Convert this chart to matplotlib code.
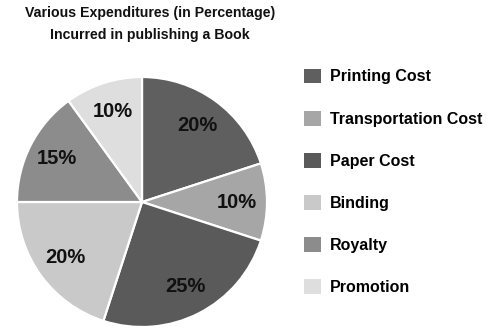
import matplotlib
matplotlib.use("Agg")
import matplotlib.pyplot as plt
from matplotlib.patches import Patch

plt.rcParams['font.family'] = ['Liberation Sans', 'DejaVu Sans']

categories = ["Printing Cost", "Transportation Cost", "Paper Cost",
              "Binding", "Royalty", "Promotion"]
shares = [20, 10, 25, 20, 15, 10]
colors = ["#5f5f5f", "#a6a6a6", "#5a5a5a", "#c9c9c9", "#8c8c8c", "#dedede"]
title = "Various Expenditures (in Percentage)\nIncurred in publishing a Book"

W, H = 496, 335
fig = plt.figure(figsize=(W / 100, H / 100), dpi=100)
fig.patch.set_facecolor("white")

cx, cy, r = 142, 202, 125
ax = fig.add_axes([(cx - r) / W, (H - cy - r) / H, 2 * r / W, 2 * r / H])
wedges, texts = ax.pie(
    shares, colors=colors, startangle=90, counterclock=False,
    labels=[f"{v}%" for v in shares], labeldistance=0.76,
    wedgeprops=dict(edgecolor="white", linewidth=1.6),
    textprops=dict(fontsize=14.5, fontweight="bold", color="#111111",
                   ha="center", va="center"))
ax.set_xlim(-1, 1)
ax.set_ylim(-1, 1)
ax.set_aspect("equal")
ax.axis("off")

fig.text(150 / W, 1 - 24 / H, title, ha="center", va="center",
         fontsize=10.2, fontweight="bold", color="#111111", linespacing=1.65)

handles = [Patch(facecolor=c, edgecolor="none") for c in colors]
fig.legend(handles, categories, loc="upper left",
           bbox_to_anchor=(304 / W, 1 - 68.5 / H), frameon=False,
           borderpad=0, borderaxespad=0,
           prop=dict(weight="bold", size=11.5),
           handlelength=1.06, handleheight=1.06, handletextpad=0.56,
           labelspacing=1.64)

fig.savefig("out.png", dpi=100)
